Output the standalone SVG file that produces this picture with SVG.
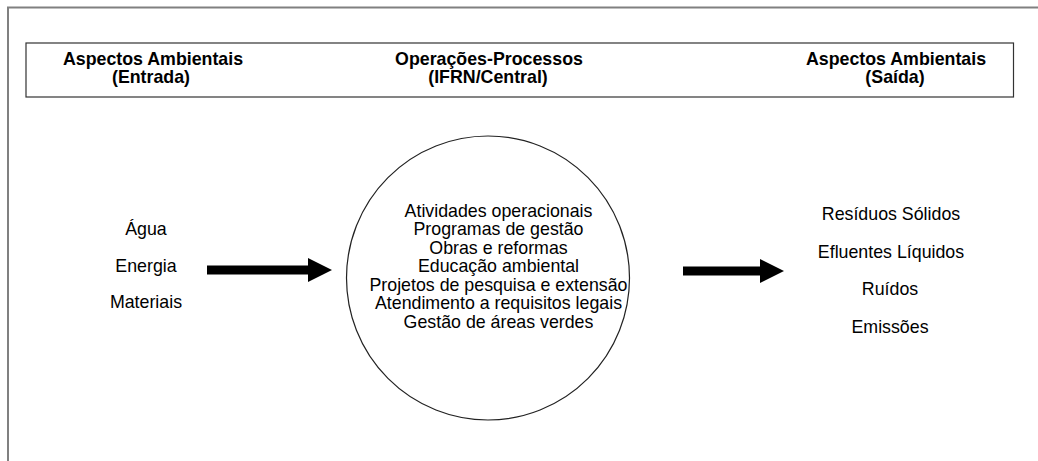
<svg xmlns="http://www.w3.org/2000/svg" width="1038" height="461" viewBox="0 0 1038 461">
<style>
.frame{fill:none;stroke:#808080;stroke-width:2}
.box{fill:#fff;stroke:#333;stroke-width:1.2}
.hdr{font-family:"Liberation Sans",Arial,sans-serif;font-weight:bold;font-size:17.8px;fill:#000;text-anchor:middle}
.txt{font-family:"Liberation Sans",Arial,sans-serif;font-size:17.8px;fill:#000;text-anchor:middle}
.ell{fill:#fff;stroke:#222;stroke-width:1.2}
.arr{fill:#000;stroke:none}
</style>
<rect width="1038" height="461" fill="#fff"/>
<path class="frame" d="M8,461 V7.5 H1038"/>
<g id="header">
<rect class="box" x="26" y="43" width="987.5" height="54"/>
<text class="hdr" x="153" y="65">Aspectos Ambientais</text>
<text class="hdr" x="151" y="83">(Entrada)</text>
<text class="hdr" x="489" y="65">Operações-Processos</text>
<text class="hdr" x="488" y="83">(IFRN/Central)</text>
<text class="hdr" x="896" y="65">Aspectos Ambientais</text>
<text class="hdr" x="895" y="83">(Saída)</text>
</g>
<g id="entrada">
<text class="txt" x="146" y="235">Água</text>
<text class="txt" x="146" y="272">Energia</text>
<text class="txt" x="146" y="308">Materiais</text>
</g>
<g id="processos">
<ellipse class="ell" cx="488" cy="278" rx="141.5" ry="142"/>
<text class="txt" x="498.5" y="216.5">Atividades operacionais</text>
<text class="txt" x="498.5" y="235">Programas de gestão</text>
<text class="txt" x="498.5" y="253.5">Obras e reformas</text>
<text class="txt" x="498.5" y="272">Educação ambiental</text>
<text class="txt" x="498.5" y="290.5">Projetos de pesquisa e extensão</text>
<text class="txt" x="498.5" y="309">Atendimento a requisitos legais</text>
<text class="txt" x="498.5" y="327.5">Gestão de áreas verdes</text>
</g>
<g id="saida">
<text class="txt" x="891" y="220">Resíduos Sólidos</text>
<text class="txt" x="891" y="257.5">Efluentes Líquidos</text>
<text class="txt" x="890" y="295">Ruídos</text>
<text class="txt" x="890" y="332.5">Emissões</text>
</g>
<g id="connectors">
<polygon class="arr" points="207,265.5 308,265.5 308,258 332,270 308,282 308,274.5 207,274.5"/>
<polygon class="arr" points="683,266.5 760,266.5 760,259 784,271 760,283 760,275.5 683,275.5"/>
</g>
</svg>
